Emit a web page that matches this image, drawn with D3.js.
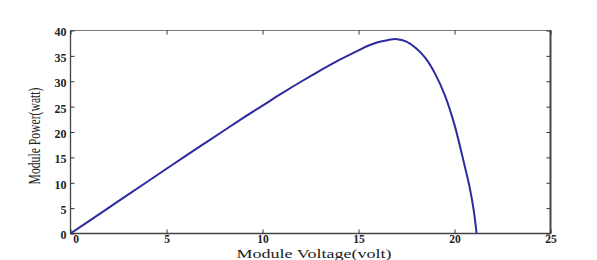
<!DOCTYPE html>
<html><head><meta charset="utf-8">
<script src="https://cdn.jsdelivr.net/npm/d3@7"></script>
<style>body{margin:0;background:#fff}svg{display:block}</style>
</head><body>
<svg id="c" width="597" height="260"></svg>
<script>
const voltage = [0,1,2,3,4,5,6,7,8,9,10,11,12,13,14,15,15.5,16,16.5,17,17.5,18,18.5,19,19.5,20,20.5,20.8,21,21.15];
const power   = [0,2.55,5.1,7.65,10.2,12.75,15.3,17.8,20.3,22.8,25.2,27.6,29.9,32.1,34.2,36.1,37.0,37.7,38.1,38.3,37.8,36.5,34.5,31.4,27.2,21.4,13.8,8.9,4.6,0];
const xTicks = [0,5,10,15,20,25];
const yTicks = [0,5,10,15,20,25,30,35,40];
const xLabel = "Module Voltage(volt)";
const yLabel = "Module Power(watt)";

const svg = d3.select("#c");
const L = 70.5, R = 550.5, T = 30.5, B = 233.5;
const x = d3.scaleLinear().domain([0,25]).range([L,R]);
const y = d3.scaleLinear().domain([0,40]).range([B,T]);
const tickFont = "'Liberation Serif','Times New Roman',serif";

// frame
svg.append("line").attr("x1",L).attr("x2",R).attr("y1",T).attr("y2",T).attr("stroke","#777").attr("stroke-width",1);
svg.append("line").attr("x1",R).attr("x2",R).attr("y1",T).attr("y2",B).attr("stroke","#444").attr("stroke-width",2);
svg.append("line").attr("x1",L).attr("x2",R).attr("y1",B).attr("y2",B).attr("stroke","#444").attr("stroke-width",1.3);
svg.append("line").attr("x1",L).attr("x2",L).attr("y1",T).attr("y2",B).attr("stroke","#444").attr("stroke-width",1.3);

// axes via d3 with inward ticks
const xb = svg.append("g").attr("transform",`translate(0,${B})`)
  .call(d3.axisBottom(x).tickValues(xTicks).tickSize(-4).tickPadding(1).tickFormat(d3.format("d")));
const xt = svg.append("g").attr("transform",`translate(0,${T})`)
  .call(d3.axisTop(x).tickValues(xTicks).tickSize(-4).tickFormat(""));
const yl = svg.append("g").attr("transform",`translate(${L},0)`)
  .call(d3.axisLeft(y).tickValues(yTicks).tickSize(-4).tickPadding(4).tickFormat(d3.format("d")));
const yr = svg.append("g").attr("transform",`translate(${R},0)`)
  .call(d3.axisRight(y).tickValues(yTicks).tickSize(-4).tickFormat(""));
[xb,xt,yl,yr].forEach(g=>{
  g.select(".domain").remove();
  g.selectAll(".tick line").attr("stroke","#333").attr("stroke-width",1);
  g.selectAll("text").attr("font-family",tickFont).attr("font-weight","bold").attr("font-size",12).attr("fill","#222");
});
xb.selectAll("text").attr("font-size",11.5);
xb.selectAll(".tick").filter(d=>d===0).select("text").attr("dx",5);
yl.selectAll("text").attr("dy","0.45em");

// curve
const pts = voltage.map((v,i)=>[v,power[i]]);
svg.append("path").datum(pts)
  .attr("fill","none").attr("stroke","#2b2b9e").attr("stroke-width",2)
  .attr("d", d3.line().x(d=>x(d[0])).y(d=>y(d[1])).curve(d3.curveCatmullRom.alpha(0.5)));

// labels
svg.append("text").attr("x",314).attr("y",257.5).attr("text-anchor","middle")
  .attr("font-family",tickFont).attr("font-size",13.5).attr("fill","#222")
  .attr("textLength",155).attr("lengthAdjust","spacingAndGlyphs").text(xLabel);
svg.append("text").attr("transform","translate(40,136) rotate(-90)").attr("text-anchor","middle")
  .attr("font-family",tickFont).attr("font-size",17).attr("fill","#222")
  .attr("textLength",97).attr("lengthAdjust","spacingAndGlyphs").text(yLabel);
</script>
</body></html>
